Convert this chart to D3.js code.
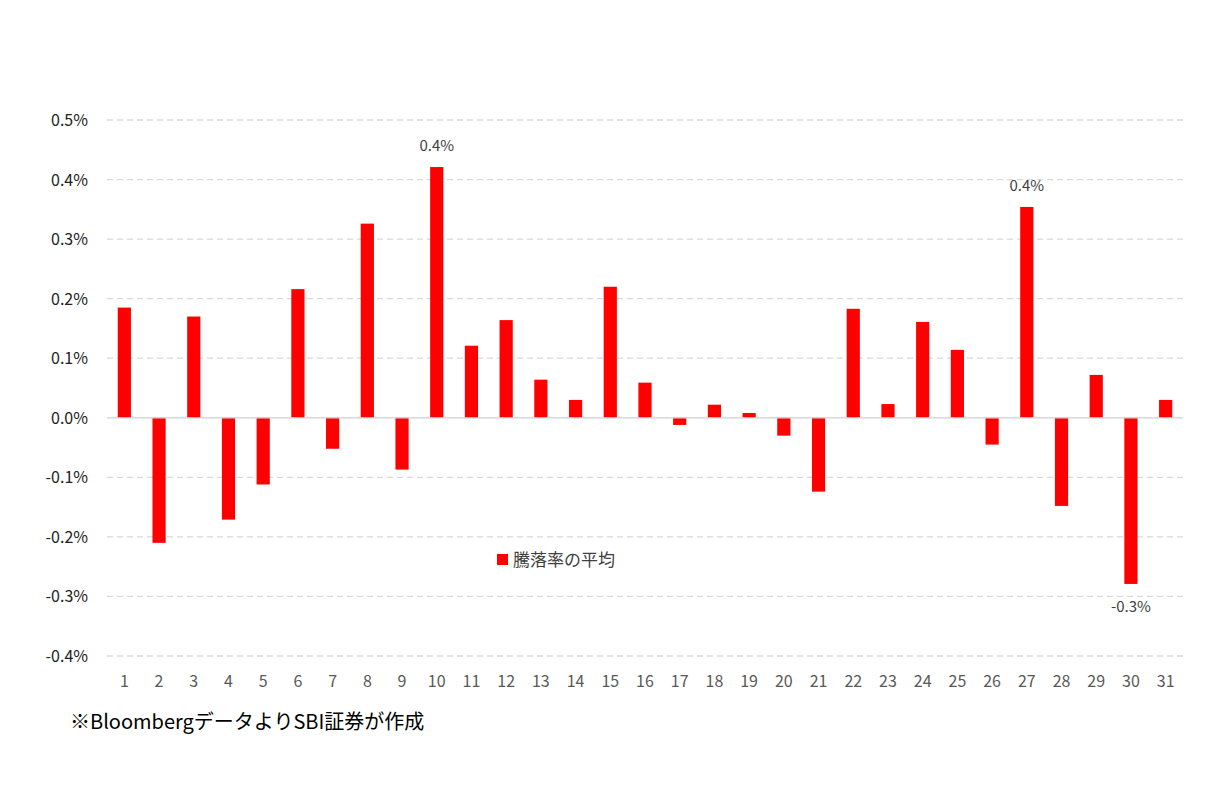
<!DOCTYPE html>
<html><head><meta charset="utf-8">
<script src="https://cdn.jsdelivr.net/npm/d3@7"></script>
<style>body{margin:0;background:#fff}</style></head>
<body><svg id="c" width="1214" height="792"></svg>
<script>
const days = d3.range(1,32).map(String);
const values = [0.185,-0.210,0.170,-0.171,-0.112,0.216,-0.052,0.326,-0.087,0.421,0.121,0.164,0.064,0.030,0.220,0.059,-0.012,0.022,0.008,-0.030,-0.124,0.183,0.023,0.161,0.114,-0.045,0.354,-0.148,0.072,-0.279,0.030];
const yTicks = [-0.4,-0.3,-0.2,-0.1,0,0.1,0.2,0.3,0.4,0.5];
const labeled = {"10":"0.4%","27":"0.4%","30":"-0.3%"};
const font = "'Noto Sans CJK JP','Noto Sans',sans-serif";
const svg = d3.select("#c");
const x = d3.scaleBand().domain(days).range([107,1183]).paddingInner(0.62).paddingOuter(0.31);
const y = d3.scaleLinear().domain([-0.4,0.5]).range([656,120]);
svg.append("g").selectAll("line").data(yTicks.filter(d=>d!==0)).join("line")
 .attr("x1",107).attr("x2",1183).attr("y1",d=>y(d)).attr("y2",d=>y(d))
 .attr("stroke","#d9d9d9").attr("stroke-width",1.3).attr("stroke-dasharray","6,4");
svg.append("g").selectAll("text").data(yTicks).join("text")
 .attr("x",88).attr("y",d=>y(d)+6).attr("text-anchor","end")
 .attr("font-family",font).attr("font-size",16).attr("fill","#222")
 .text(d=>d.toFixed(1)+"%");
svg.append("g").selectAll("rect").data(values).join("rect")
 .attr("x",(d,i)=>x(days[i])).attr("width",x.bandwidth())
 .attr("y",d=>y(Math.max(0,d))).attr("height",d=>Math.abs(y(d)-y(0)))
 .attr("fill","#ff0000");
svg.append("line").attr("x1",107).attr("x2",1183).attr("y1",y(0)).attr("y2",y(0)).attr("stroke","#d0d0d0").attr("stroke-width",1.3);
svg.append("g").selectAll("text").data(days).join("text")
 .attr("x",d=>x(d)+x.bandwidth()/2).attr("y",687).attr("text-anchor","middle")
 .attr("font-family",font).attr("font-size",16).attr("fill","#595959").text(d=>d);
days.forEach((d,i)=>{ if(labeled[d]){ const v=values[i];
 svg.append("text").attr("x",x(d)+x.bandwidth()/2).attr("y",v>0?y(v)-16:y(v)+28)
 .attr("text-anchor","middle").attr("font-family",font).attr("font-size",15).attr("fill","#404040").text(labeled[d]);}});
svg.append("rect").attr("x",497).attr("y",554).attr("width",11).attr("height",11).attr("fill","#ff0000");
svg.append("text").attr("x",513).attr("y",566).attr("font-family",font).attr("font-size",17).attr("fill","#404040").text("騰落率の平均");
svg.append("text").attr("x",70).attr("y",729).attr("font-family",font).attr("font-size",20).attr("fill","#000").text("※Bloombergデータよりの SBI証券が作成".replace("よりの ","より"));
</script></body></html>
